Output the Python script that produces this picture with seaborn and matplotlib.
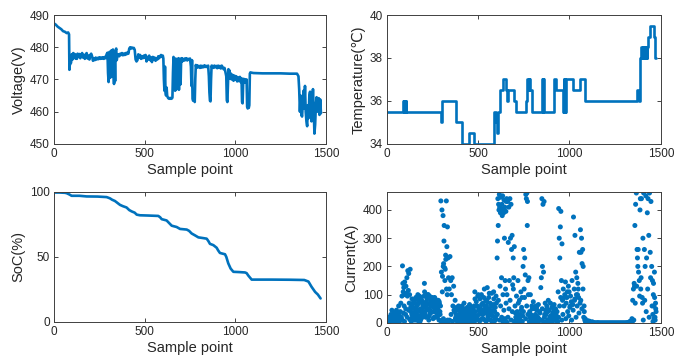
import matplotlib
matplotlib.use("Agg")
import matplotlib.pyplot as plt
import seaborn as sns
import numpy as np

# ---------------- data ----------------
volt_x = [0, 10, 20, 30, 40, 50, 60, 70, 78, 83,
          85, 87, 90, 94, 98, 102, 106, 110, 114, 118,
          122, 126, 130, 135, 140, 145, 150, 155, 160, 165,
          170, 175, 180, 185, 190, 195, 200, 205, 210, 215,
          220, 225, 230, 235, 240, 245, 250, 255, 260, 265,
          270, 275, 280, 285, 290, 295, 298, 301, 304, 307,
          310, 313, 316, 319, 322, 325, 328, 331, 334, 337,
          340, 343, 346, 350, 355, 360, 365, 370, 375, 380,
          385, 390, 395, 400, 405, 410, 415, 420, 425, 430,
          435, 440, 445, 450, 455, 460, 465, 470, 475, 480,
          485, 490, 495, 500, 505, 510, 515, 520, 525, 530,
          535, 540, 545, 550, 555, 560, 565, 570, 575, 580,
          585, 590, 595, 600, 603, 606, 609, 612, 615, 618,
          621, 624, 627, 630, 635, 640, 645, 650, 653, 656,
          659, 662, 665, 668, 671, 674, 677, 680, 683, 686,
          689, 692, 695, 698, 701, 704, 707, 710, 715, 720,
          725, 730, 735, 740, 745, 750, 755, 758, 761, 764,
          767, 770, 773, 776, 779, 782, 786, 790, 795, 800,
          805, 810, 815, 820, 825, 830, 835, 840, 845, 850,
          854, 857, 860, 863, 866, 869, 872, 876, 880, 885,
          890, 895, 900, 905, 910, 915, 920, 925, 930, 935,
          940, 945, 950, 953, 956, 959, 962, 965, 968, 972,
          976, 980, 985, 990, 995, 1000, 1005, 1010, 1015, 1020,
          1025, 1030, 1034, 1037, 1040, 1043, 1046, 1050, 1054, 1058,
          1062, 1065, 1068, 1071, 1074, 1077, 1080, 1083, 1090, 1100,
          1150, 1200, 1250, 1300, 1340, 1348, 1352, 1356, 1360, 1364,
          1368, 1372, 1376, 1380, 1384, 1388, 1392, 1396, 1400, 1404,
          1408, 1412, 1416, 1420, 1424, 1428, 1432, 1436, 1440, 1444,
          1448, 1452, 1456, 1460, 1464, 1468, 1472]
volt_v = [487.4, 487.0, 486.4, 486.0, 485.6, 485.0, 484.8, 484.4, 484.6, 484.0,
          473.0, 474.5, 474.8, 475.2, 477.8, 476.2, 478.2, 476.8, 477.9, 476.5,
          477.6, 476.4, 478.0, 477.0, 477.9, 476.6, 477.4, 478.2, 476.8, 477.6,
          476.4, 477.8, 478.2, 476.5, 477.4, 476.2, 477.6, 478.0, 477.2, 475.8,
          476.6, 476.0, 476.8, 476.2, 476.7, 476.3, 476.9, 476.4, 476.8, 476.5,
          476.9, 476.4, 477.0, 476.6, 477.8, 478.3, 472.0, 469.2, 476.0, 478.6,
          470.5, 477.5, 479.0, 471.0, 478.8, 479.3, 472.5, 468.6, 476.5, 469.5,
          479.0, 479.6, 476.0, 477.5, 477.8, 477.2, 478.0, 477.6, 478.2, 477.5,
          478.0, 477.6, 478.2, 477.8, 478.4, 478.0, 479.6, 480.0, 479.6, 479.9,
          479.7, 479.8, 479.2, 476.2, 475.6, 476.0, 477.8, 476.8, 477.6, 476.4,
          477.2, 476.6, 477.4, 476.8, 477.6, 475.6, 477.0, 476.2, 477.4, 476.0,
          476.8, 475.4, 477.0, 476.2, 476.8, 475.8, 476.6, 476.2, 477.2, 476.6,
          477.2, 477.6, 477.0, 477.4, 476.5, 470.0, 466.5, 474.0, 466.0, 465.0,
          467.5, 465.0, 464.5, 464.2, 464.0, 464.3, 464.0, 464.1, 464.4, 472.0,
          477.0, 468.0, 476.2, 466.5, 476.5, 475.0, 467.0, 476.2, 470.0, 476.6,
          466.8, 475.8, 476.4, 468.5, 476.0, 476.6, 475.6, 476.4, 475.8, 476.5,
          476.0, 476.6, 475.9, 476.4, 476.2, 476.5, 474.0, 468.0, 476.0, 464.0,
          463.4, 463.6, 466.0, 463.0, 470.0, 474.5, 473.6, 474.4, 473.8, 474.2,
          473.6, 474.3, 473.7, 474.2, 473.8, 474.4, 473.9, 474.2, 473.8, 474.3,
          471.0, 466.0, 463.4, 463.2, 470.0, 474.3, 473.8, 474.2, 473.6, 474.3,
          473.8, 474.2, 473.5, 474.3, 473.6, 474.2, 473.4, 474.3, 473.8, 473.2,
          473.6, 472.4, 471.0, 463.5, 463.0, 468.0, 473.2, 470.5, 472.8, 470.2,
          471.8, 470.0, 471.4, 469.6, 471.2, 470.0, 471.0, 469.4, 470.6, 469.5,
          470.8, 469.2, 470.4, 463.0, 462.6, 468.5, 470.2, 469.0, 470.0, 469.2,
          470.0, 461.5, 461.0, 461.4, 461.2, 462.0, 471.8, 472.2, 472.1, 472.0,
          471.9, 471.9, 471.9, 471.8, 471.8, 471.0, 467.0, 460.0, 465.0, 459.0,
          458.5, 463.0, 466.5, 461.0, 468.0, 460.0, 457.0, 455.5, 462.0, 458.0,
          465.0, 466.2, 460.0, 457.0, 462.0, 467.0, 461.0, 453.2, 456.0, 462.0,
          464.5, 460.0, 463.0, 464.2, 459.0, 463.8, 459.5]

temp_x = [0, 89, 92, 95, 99, 103, 107, 299, 302, 378,
          414, 450, 476, 585, 598, 601, 608, 618, 637, 655,
          660, 665, 695, 710, 762, 770, 777, 781, 786, 793,
          850, 854, 857, 862, 913, 925, 966, 969, 972, 975,
          978, 981, 1022, 1058, 1083, 1367, 1378, 1384, 1394, 1398,
          1402, 1406, 1410, 1414, 1418, 1422, 1426, 1432, 1442, 1462,
          1468, 1472]
temp_v = [35.5, 36.0, 35.5, 36.0, 35.5, 36.0, 35.5, 35.0, 36.0, 35.0,
          34.0, 34.5, 34.0, 35.5, 35.0, 34.5, 35.5, 36.5, 37.0, 36.5,
          36.0, 36.5, 36.0, 35.5, 36.0, 37.0, 36.5, 37.0, 36.5, 35.5,
          37.0, 35.5, 37.0, 35.5, 37.0, 36.5, 35.5, 37.0, 35.5, 37.0,
          35.5, 37.0, 36.5, 37.0, 36.0, 36.5, 36.0, 38.0, 38.5, 38.0,
          38.5, 38.0, 38.5, 38.0, 38.5, 38.0, 38.5, 39.0, 39.5, 39.0,
          38.0, 38.0]

soc_x = [0, 30, 60, 70, 85, 97, 140, 180, 240, 290,
         300, 309, 320, 336, 350, 364, 380, 400, 415, 428,
         445, 456, 474, 520, 575, 585, 594, 608, 621, 635,
         649, 662, 676, 695, 732, 745, 759, 778, 796, 820,
         842, 852, 860, 870, 879, 897, 905, 915, 943, 950,
         961, 974, 989, 1020, 1053, 1062, 1072, 1090, 1200, 1300,
         1380, 1403, 1420, 1440, 1455, 1470]
soc_v = [99.5, 99.5, 99.3, 99.0, 98.0, 97.0, 97.0, 96.5, 96.4, 96.0,
         95.5, 95.0, 94.0, 93.0, 91.5, 90.0, 89.0, 88.0, 86.0, 85.0,
         84.0, 82.5, 82.0, 81.8, 81.5, 80.5, 79.0, 78.5, 78.0, 76.0,
         74.0, 73.5, 73.0, 71.5, 71.0, 70.0, 68.0, 66.5, 65.0, 64.5,
         64.0, 62.0, 60.0, 59.5, 59.0, 57.0, 55.0, 53.0, 52.0, 50.0,
         45.0, 41.0, 38.5, 38.3, 38.0, 37.5, 35.5, 32.5, 32.5, 32.4,
         32.2, 31.0, 27.0, 23.0, 21.0, 18.0]

cur_start = [(2, 5), (5, 12), (8, 3), (11, 20), (14, 8), (17, 2), (20, 15), (23, 30), (26, 6),
             (29, 10), (32, 25), (35, 4), (38, 18), (41, 35), (44, 9), (47, 2), (50, 22),
             (53, 45), (56, 12), (59, 5), (62, 30), (65, 60), (68, 15), (71, 8), (74, 40),
             (77, 70), (80, 20), (4, 0), (10, 2), (16, 15), (22, 5), (28, 45), (34, 15),
             (40, 5), (46, 30), (52, 10), (58, 35), (64, 5), (70, 25), (76, 10)]
cur_early = [(83, 95), (86, 202), (88, 140), (90, 110), (93, 125), (95, 60), (98, 145),
             (100, 100), (103, 30), (105, 130), (108, 105), (110, 160), (113, 95),
             (115, 185), (118, 115), (120, 175), (123, 70), (125, 100), (128, 190),
             (130, 50), (85, 10), (92, 35), (97, 5), (104, 50), (112, 20), (119, 45), (126, 12)]
cur_low1 = [(132, 40), (136, 65), (140, 20), (144, 55), (148, 80), (152, 35), (156, 70),
            (160, 10), (164, 60), (168, 85), (172, 45), (176, 25), (180, 75), (184, 50),
            (188, 90), (192, 30), (196, 65), (200, 55), (204, 95), (208, 40), (212, 72),
            (216, 60), (220, 85), (224, 100), (228, 50), (232, 68), (236, 45), (240, 80),
            (244, 62), (248, 38), (252, 70), (256, 58), (260, 82), (264, 48), (268, 65),
            (272, 35), (276, 75), (280, 55), (284, 42), (288, 68), (292, 30),
            (134, 5), (142, 30), (150, 10), (158, 45), (166, 15), (174, 80), (182, 5),
            (190, 48), (198, 25), (206, 140), (214, 20), (222, 90), (230, 10), (238, 35),
            (246, 60), (254, 15), (262, 90), (270, 20), (278, 50), (286, 10), (294, 60),
            (138, 85), (154, 25), (170, 100), (186, 12), (202, 70), (218, 45), (234, 95),
            (250, 75), (266, 40), (282, 80)]
cur_low2 = [(131, 55), (137, 30), (143, 70), (147, 15), (153, 50), (159, 90), (163, 35),
            (169, 65), (175, 5), (179, 95), (185, 40), (191, 80), (195, 20), (201, 60),
            (207, 110), (211, 30), (217, 75), (223, 50), (227, 100), (233, 25), (239, 65),
            (243, 40), (249, 90), (255, 55), (259, 20), (265, 85), (271, 45), (275, 60),
            (281, 25), (287, 75), (291, 40)]
cur_burst1 = [(296, 432), (299, 180), (302, 400), (305, 165), (308, 380), (311, 210),
              (314, 345), (317, 195), (320, 190), (323, 225), (326, 432), (329, 270),
              (332, 340), (335, 230), (338, 160), (300, 5), (304, 110), (309, 200),
              (313, 290), (318, 150), (322, 240), (327, 120), (331, 100), (336, 2),
              (297, 8), (303, 2), (310, 15), (316, 3), (324, 6), (333, 10)]
cur_mid1 = [(342, 120), (346, 235), (350, 150), (354, 100), (358, 160), (362, 60),
            (366, 130), (370, 40), (374, 80), (378, 20), (382, 55), (344, 10), (352, 30),
            (360, 5), (368, 45), (376, 15), (384, 8),
            (386, 20), (390, 45), (394, 8), (398, 30), (402, 55), (406, 12), (410, 38),
            (414, 3), (418, 25), (422, 50), (426, 15), (430, 35), (434, 5), (438, 28),
            (442, 48), (446, 10), (450, 40), (454, 22), (458, 58), (462, 6), (466, 32),
            (470, 18), (474, 52), (388, 2), (396, 15), (404, 40), (412, 60), (420, 8),
            (428, 20), (436, 42), (444, 5), (452, 30), (460, 12), (468, 35)]
cur_mid2 = [(478, 60), (482, 110), (486, 40), (490, 75), (494, 20), (498, 95), (502, 55),
            (506, 30), (510, 85), (514, 50), (518, 100), (522, 15), (526, 70), (530, 45),
            (534, 120), (538, 35), (542, 80), (546, 60), (550, 125), (554, 25), (558, 90),
            (562, 50), (566, 70), (570, 10), (574, 105), (578, 40), (582, 65), (586, 85),
            (590, 20), (594, 55), (598, 95), (602, 30), (480, 5), (488, 25), (496, 10),
            (504, 45), (512, 8), (520, 35), (528, 15), (536, 60), (544, 5), (552, 40),
            (560, 12), (568, 30), (576, 3), (584, 45), (592, 8), (600, 70)]
cur_mid2b = [(381, 30), (387, 10), (393, 60), (399, 20), (405, 45), (411, 25), (417, 5),
             (423, 70), (429, 40), (435, 15), (441, 55), (447, 25), (453, 65), (459, 8),
             (465, 45), (471, 20), (477, 35), (483, 85), (489, 15), (495, 60), (501, 100),
             (507, 10), (513, 40), (519, 65), (525, 30), (531, 90), (537, 10), (543, 50),
             (549, 75), (555, 20), (561, 105), (567, 40), (573, 60), (579, 25), (585, 110),
             (591, 40), (597, 15)]
cur_burst2 = [(604, 230), (606, 290), (608, 440), (610, 345), (612, 420), (614, 400),
              (616, 455), (618, 410), (620, 130), (622, 390), (624, 445), (626, 400),
              (628, 160), (630, 420), (632, 380), (634, 450), (636, 100), (638, 405),
              (640, 390), (642, 435), (644, 300), (646, 410), (648, 150), (650, 120),
              (652, 395), (654, 430), (656, 440), (658, 100), (605, 30), (611, 80),
              (617, 10), (623, 60), (629, 20), (635, 5), (641, 45), (647, 15), (653, 70),
              (659, 2),
              (662, 430), (665, 285), (668, 410), (671, 150), (674, 440), (677, 300),
              (680, 420), (683, 260), (686, 310), (689, 135), (692, 230), (695, 160),
              (698, 270), (663, 20), (669, 50), (675, 80), (681, 10), (687, 40), (693, 120),
              (699, 5)]
cur_mid3 = [(702, 60), (706, 20), (710, 95), (714, 40), (718, 150), (722, 10), (726, 80),
            (730, 30), (734, 110), (738, 55), (742, 5), (704, 35), (712, 5), (720, 70),
            (728, 15), (736, 45), (744, 25),
            (746, 200), (749, 260), (752, 120), (755, 230), (758, 170), (761, 455),
            (764, 440), (767, 460), (770, 430), (773, 150), (748, 40), (754, 90), (760, 15),
            (766, 60), (772, 30), (769, 345), (775, 100),
            (778, 160), (782, 40), (786, 100), (790, 15), (794, 60), (798, 25), (802, 75),
            (806, 5), (810, 50), (814, 30), (818, 10), (822, 45), (826, 20), (830, 65),
            (834, 8), (838, 35), (780, 5), (788, 30), (796, 50), (804, 10), (812, 25),
            (820, 55), (828, 3), (836, 40),
            (700, 5), (716, 25), (732, 5), (740, 90), (784, 20), (800, 5), (816, 60),
            (832, 15)]
cur_mid4 = [(843, 125), (846, 160), (849, 440), (852, 200), (855, 420), (858, 180),
            (861, 430), (864, 30), (867, 70), (845, 10), (851, 50), (857, 5), (863, 20),
            (869, 45),
            (872, 30), (876, 60), (880, 10), (884, 80), (888, 45), (892, 20), (896, 70),
            (900, 5), (904, 55), (908, 35), (912, 15), (916, 65), (920, 25), (924, 50),
            (928, 8), (932, 40), (874, 2), (882, 40), (890, 5), (898, 25), (906, 3),
            (914, 45), (922, 10), (930, 20), (878, 50), (894, 10), (910, 60), (926, 30),
            (936, 5),
            (938, 110), (941, 405), (944, 300), (947, 230), (950, 340), (953, 395),
            (956, 150), (959, 280), (940, 20), (946, 60), (952, 90), (958, 10)]
cur_mid5 = [(962, 80), (966, 120), (970, 60), (974, 100), (978, 145), (982, 70), (986, 90),
            (990, 40), (994, 130), (998, 110), (1002, 55), (1006, 95), (1010, 75),
            (1014, 150), (1018, 65), (1022, 375), (1026, 120), (1030, 85), (1034, 180),
            (1038, 100), (1042, 60), (1046, 140), (1050, 90), (1054, 250), (1058, 70),
            (964, 30), (972, 90), (980, 15), (988, 110), (996, 25), (1004, 60), (1012, 10),
            (1020, 45), (1028, 80), (1036, 20), (1044, 100), (1052, 35), (1030, 310),
            (1040, 160), (1048, 120),
            (1060, 330), (1063, 250), (1066, 300), (1069, 210), (1072, 260), (1075, 200),
            (1078, 20), (1081, 40), (1084, 10), (1087, 5), (1062, 80), (1068, 50),
            (1074, 120), (1080, 60), (1086, 15)]
cur_idle = [(1090, 2), (1095, 5), (1100, 8), (1105, 3), (1110, 6), (1115, 2), (1120, 1),
            (1125, 4), (1130, 0), (1135, 1), (1140, 0), (1145, 0), (1150, 0), (1155, 1),
            (1160, 0), (1165, 0), (1170, 0), (1175, 0), (1180, 0), (1185, 0), (1190, 0),
            (1195, 0), (1200, 0), (1205, 0), (1210, 0), (1215, 0), (1220, 0), (1225, 0),
            (1230, 0), (1235, 0), (1240, 0), (1245, 0), (1250, 0), (1255, 0), (1260, 0),
            (1265, 0), (1270, 0), (1275, 0), (1280, 0), (1285, 0), (1290, 0), (1295, 0),
            (1300, 0), (1305, 0), (1310, 0), (1315, 1), (1320, 0), (1325, 2), (1330, 5),
            (1335, 3), (1340, 8)]
cur_end = [(1342, 15), (1346, 80), (1350, 120), (1354, 140), (1358, 345), (1362, 420),
           (1366, 460), (1370, 260), (1374, 200), (1378, 180), (1382, 150), (1386, 400),
           (1390, 120), (1394, 440), (1398, 90), (1344, 5), (1352, 10), (1360, 70),
           (1368, 130), (1376, 260), (1384, 95), (1392, 160), (1400, 70), (1356, 130),
           (1372, 230), (1388, 440),
           (1402, 300), (1406, 460), (1410, 260), (1414, 200), (1418, 450), (1422, 230),
           (1426, 390), (1430, 440), (1434, 310), (1438, 460), (1442, 250), (1446, 430),
           (1450, 200), (1454, 150), (1404, 10), (1412, 80), (1420, 40), (1428, 120),
           (1436, 20), (1444, 160), (1452, 60),
           (1456, 30), (1459, 100), (1462, 60), (1465, 180), (1468, 20), (1471, 70),
           (1474, 40), (1457, 5), (1460, 140), (1463, 15), (1466, 90), (1469, 10),
           (1472, 50)]

x_ticks = [0, 500, 1000, 1500]

# ---------------- style ----------------
sns.set_theme(style="ticks")
plt.rcParams["font.family"] = ["Liberation Sans", "DejaVu Sans"]
TXT = "#262626"
BLUE = "#0072BD"

fig = plt.figure(figsize=(6.75, 3.58), dpi=100)
ax_v = fig.add_axes([0.080, 0.598, 0.403, 0.360])
ax_t = fig.add_axes([0.573, 0.598, 0.406, 0.360])
ax_s = fig.add_axes([0.080, 0.101, 0.403, 0.363])
ax_c = fig.add_axes([0.573, 0.098, 0.406, 0.366])

sns.lineplot(x=volt_x, y=volt_v, ax=ax_v, color=BLUE, linewidth=1.9,
             estimator=None, sort=False)
sns.lineplot(x=temp_x, y=temp_v, ax=ax_t, color=BLUE, linewidth=1.9,
             estimator=None, sort=False, drawstyle="steps-post")
sns.lineplot(x=soc_x, y=soc_v, ax=ax_s, color=BLUE, linewidth=1.9,
             estimator=None, sort=False)
cur_pts = (cur_start + cur_early + cur_low1 + cur_low2 + cur_burst1 + cur_mid1 +
           cur_mid2 + cur_mid2b + cur_burst2 + cur_mid3 + cur_mid4 + cur_mid5 +
           cur_idle + cur_end)
cur_x = [p[0] for p in cur_pts]
cur_y = [p[1] for p in cur_pts]
sns.scatterplot(x=cur_x, y=cur_y, ax=ax_c, color=BLUE, s=13, linewidth=0,
                edgecolor="none")

ax_v.set_ylim(450, 490); ax_v.set_yticks([450, 460, 470, 480, 490])
ax_t.set_ylim(34, 40); ax_t.set_yticks([34, 36, 38, 40])
ax_s.set_ylim(0, 100); ax_s.set_yticks([0, 50, 100])
ax_c.set_ylim(0, 464); ax_c.set_yticks([0, 100, 200, 300, 400])

labels = ["Voltage(V)", "Temperature(℃)", "SoC(%)", "Current(A)"]
for ax, lab in zip([ax_v, ax_t, ax_s, ax_c], labels):
    ax.set_xlim(0, 1500)
    ax.set_xticks(x_ticks)
    ax.set_xlabel("Sample point", fontsize=10.5, color=TXT, labelpad=2)
    ax.set_ylabel(lab, fontsize=10.5, color=TXT, labelpad=3)
    ax.tick_params(direction="in", length=3, width=0.6, top=True, right=True,
                   labelsize=8.5, colors=TXT, pad=3)
    for sp in ax.spines.values():
        sp.set_visible(True)
        sp.set_color("#404040")
        sp.set_linewidth(0.7)
    ax.set_facecolor("white")

fig.savefig("out.png", dpi=100, facecolor="white")
